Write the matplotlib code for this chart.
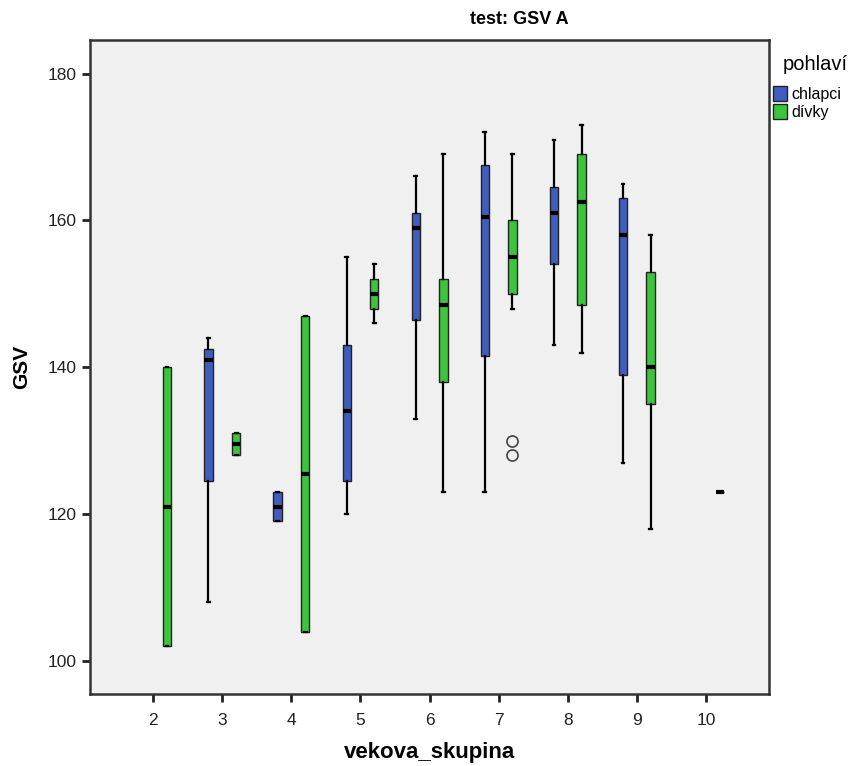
import matplotlib.pyplot as plt
from matplotlib.patches import Patch

plt.rcParams['font.family'] = ['Liberation Sans', 'DejaVu Sans']

# age groups and box statistics (GSV)
groups_boys = [3, 4, 5, 6, 7, 8, 9]
boys_whislo = [108, 119, 120, 133, 123, 143, 127]
boys_q1 = [124.5, 119, 124.5, 146.5, 141.5, 154, 139]
boys_med = [141, 121, 134, 159, 160.5, 161, 158]
boys_q3 = [142.5, 123, 143, 161, 167.5, 164.5, 163]
boys_whishi = [144, 123, 155, 166, 172, 171, 165]

groups_girls = [2, 3, 4, 5, 6, 7, 8, 9, 10]
girls_whislo = [102, 128, 104, 146, 123, 148, 142, 118, 123]
girls_q1 = [102, 128, 104, 148, 138, 150, 148.5, 135, 123]
girls_med = [121, 129.5, 125.5, 150, 148.5, 155, 162.5, 140, 123]
girls_q3 = [140, 131, 147, 152, 152, 160, 169, 153, 123]
girls_whishi = [140, 131, 147, 154, 169, 169, 173, 158, 123]
girls_fliers = {7: [130, 128]}

x_ticks = [2, 3, 4, 5, 6, 7, 8, 9, 10]
y_ticks = [100, 120, 140, 160, 180]

blue = '#3f5dbd'
green = '#3cc43c'


def make_stats(groups, lo, q1, med, q3, hi, fliers=None):
    fliers = fliers or {}
    stats = []
    for i, g in enumerate(groups):
        stats.append(dict(whislo=lo[i], q1=q1[i], med=med[i], q3=q3[i],
                          whishi=hi[i], fliers=fliers.get(g, [])))
    return stats


fig = plt.figure(figsize=(8.54, 7.66), dpi=100)
ax = fig.add_axes([0.105, 0.094, 0.796, 0.854])
ax.set_facecolor('#f0f0f0')

common = dict(widths=0.12, patch_artist=True, manage_ticks=False,
              whiskerprops=dict(color='black', lw=1.6),
              capprops=dict(color='black', lw=1.6),
              medianprops=dict(color='black', lw=3),
              flierprops=dict(marker='o', markerfacecolor='none',
                              markeredgecolor='#444444', markersize=8, mew=1.2))

cap_w = 0.04
b = ax.bxp(make_stats(groups_boys, boys_whislo, boys_q1, boys_med, boys_q3, boys_whishi),
           positions=[g - 0.2 for g in groups_boys], capwidths=cap_w, **common)
for p in b['boxes']:
    p.set_facecolor(blue)
    p.set_edgecolor('#222222')
    p.set_linewidth(1)

gr = ax.bxp(make_stats(groups_girls, girls_whislo, girls_q1, girls_med, girls_q3,
                       girls_whishi, girls_fliers),
            positions=[g + 0.2 for g in groups_girls], capwidths=cap_w, **common)
for p in gr['boxes']:
    p.set_facecolor(green)
    p.set_edgecolor('#222222')
    p.set_linewidth(1)

ax.set_xlim(1.08, 10.92)
ax.set_ylim(95.5, 184.6)
ax.set_xticks(x_ticks)
ax.set_xticklabels([str(t) for t in x_ticks])
ax.set_yticks(y_ticks)
ax.tick_params(axis='both', length=6, width=2, labelsize=12.5, direction='out',
               color='#222222', labelcolor='#222222')
ax.tick_params(axis='x', pad=8)
for s in ax.spines.values():
    s.set_linewidth(1.8)
    s.set_color('#333333')

ax.set_xlabel('vekova_skupina', fontsize=16, fontweight='bold', labelpad=10)
ax.set_ylabel('GSV', fontsize=15, fontweight='bold', labelpad=12)
fig.text(0.608, 0.975, 'test: GSV A', ha='center', va='center',
         fontsize=13, fontweight='bold')

fig.text(783 / 854, 1 - 64 / 766, 'pohlaví', ha='left', va='center', fontsize=14.5)
handles = [Patch(facecolor=blue, edgecolor='#222222', label='chlapci'),
           Patch(facecolor=green, edgecolor='#222222', label='dívky')]
fig.legend(handles=handles, loc='upper left',
           bbox_to_anchor=(773 / 854, 1 - 86 / 766), frameon=False, fontsize=11.5,
           handlelength=0.85, handleheight=1.05, handletextpad=0.3,
           labelspacing=0.15, borderaxespad=0, borderpad=0)

fig.savefig('out.png', dpi=100)
